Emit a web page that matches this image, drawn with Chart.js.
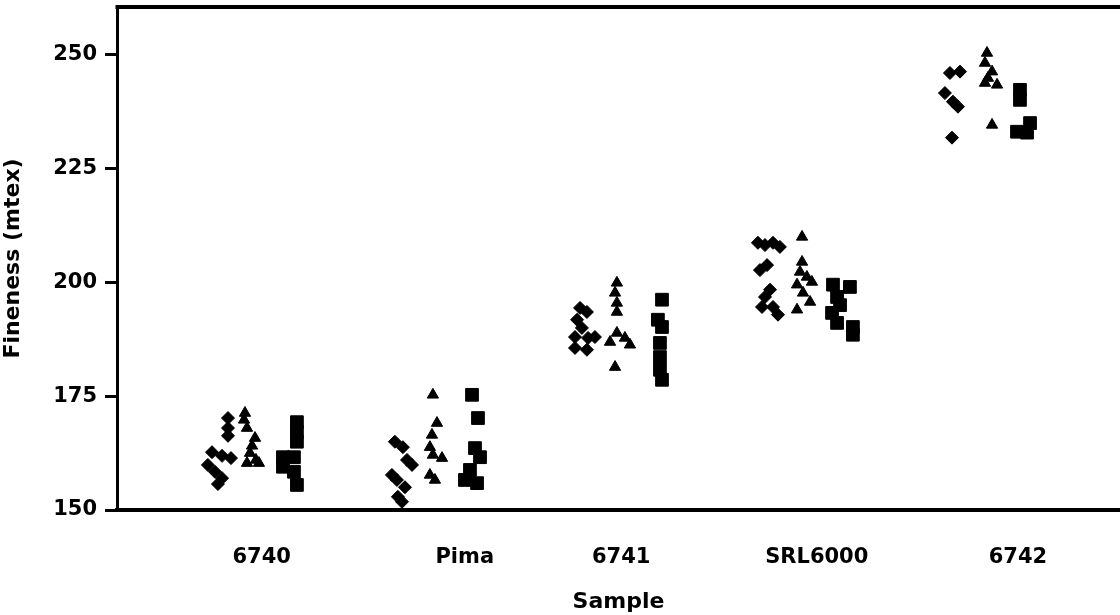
<!DOCTYPE html>
<html>
<head>
<meta charset="utf-8">
<script src="https://cdn.jsdelivr.net/npm/chart.js@4.4.1/dist/chart.umd.min.js"></script>
<style>
  html, body { margin: 0; padding: 0; background: #fff; overflow: hidden; }
  #wrap { width: 1120px; height: 615px; }
</style>
</head>
<body>
<div id="wrap"><canvas id="myChart" width="1120" height="615"></canvas></div>
<script>
// Категории и позиции подписей по оси X
var categories = ['6740', 'Pima', '6741', 'SRL6000', '6742'];
var labelPos = [1.09, 2.18, 3.02, 4.07, 5.15];
var yTicks = [150, 175, 200, 225, 250];

// Точки: [позиция по X (с разбросом), тонина]
var diamonds = [
    [0.909, 170.2], [0.909, 168.0], [0.909, 166.3], [0.823, 162.7], [0.877, 161.9],
    [0.925, 161.4], [0.801, 159.9], [0.839, 158.4], [0.877, 157.0], [0.855, 155.7],
    [1.805, 165.0], [1.848, 163.8], [1.870, 161.0], [1.897, 159.9], [1.789, 157.7],
    [1.816, 156.6], [1.859, 155.0], [1.821, 152.9], [1.843, 151.8],
    [2.799, 194.4], [2.836, 193.5], [2.783, 191.8], [2.809, 190.0], [2.772, 188.0],
    [2.842, 187.8], [2.879, 188.0], [2.772, 185.6], [2.836, 185.2],
    [3.754, 208.7], [3.792, 208.2], [3.835, 208.7], [3.872, 207.8], [3.765, 202.7],
    [3.803, 203.8], [3.819, 198.4], [3.792, 196.8], [3.776, 194.6], [3.835, 194.6],
    [3.862, 192.9],
    [4.785, 246.0], [4.839, 246.3], [4.758, 241.6], [4.801, 239.7], [4.828, 238.6],
    [4.796, 231.8]
];
var triangles = [
    [1.000, 171.3], [0.995, 169.8], [1.011, 168.0], [1.054, 165.8], [1.038, 164.1],
    [1.027, 162.5], [1.059, 161.0], [1.011, 160.3], [1.075, 160.3],
    [2.009, 175.3], [2.031, 169.1], [2.004, 166.5], [1.993, 163.8], [2.009, 162.1],
    [2.058, 161.4], [1.993, 157.7], [2.020, 156.6],
    [2.997, 199.9], [2.987, 197.7], [2.997, 195.5], [2.997, 193.5], [2.997, 188.9],
    [2.960, 186.9], [3.040, 187.8], [3.067, 186.3], [2.987, 181.4],
    [3.991, 210.0], [3.991, 204.5], [3.980, 202.3], [4.017, 201.2], [4.044, 200.1],
    [3.964, 199.5], [3.996, 197.7], [4.034, 195.7], [3.964, 194.0],
    [4.984, 250.4], [4.973, 248.2], [5.011, 246.3], [4.989, 244.9], [4.973, 243.8],
    [5.038, 243.4], [5.011, 234.6]
];
var squares = [
    [1.279, 169.3], [1.279, 167.1], [1.279, 165.0], [1.204, 161.6], [1.263, 161.6],
    [1.204, 159.5], [1.263, 158.4], [1.279, 155.5],
    [2.219, 175.3], [2.251, 170.2], [2.235, 163.6], [2.262, 161.6], [2.208, 158.8],
    [2.181, 156.6], [2.246, 155.9],
    [3.239, 196.2], [3.217, 191.8], [3.239, 190.2], [3.228, 186.7], [3.228, 183.6],
    [3.228, 180.8], [3.239, 178.6],
    [4.157, 199.5], [4.248, 199.0], [4.179, 196.8], [4.195, 195.0], [4.152, 193.3],
    [4.179, 191.1], [4.264, 190.2], [4.264, 188.5],
    [5.161, 242.3], [5.161, 240.1], [5.215, 235.0], [5.145, 233.1], [5.199, 232.9]
];

function toXY(arr) {
    return arr.map(function (p) { return { x: p[0], y: p[1] }; });
}

// Верхняя рамка графика
var topBorder = {
    id: 'topBorder',
    afterDraw: function (chart) {
        var a = chart.chartArea;
        var ctx = chart.ctx;
        ctx.save();
        ctx.strokeStyle = '#000';
        ctx.lineWidth = 4;
        ctx.beginPath();
        ctx.moveTo(a.left - 1.5, a.top);
        ctx.lineTo(a.right + 2, a.top);
        ctx.stroke();
        ctx.restore();
    }
};

var font = 'DejaVu Sans';

function chart() {
    var ctx = document.getElementById('myChart').getContext('2d');

    new Chart(ctx, {
        type: 'scatter',
        data: {
            datasets: [{
                label: 'diamonds',
                data: toXY(diamonds),
                pointStyle: 'rectRot',
                pointRadius: 6.5,
                backgroundColor: '#000',
                borderColor: '#000',
                borderWidth: 1
            }, {
                label: 'triangles',
                data: toXY(triangles),
                pointStyle: 'triangle',
                pointRadius: 6.5,
                backgroundColor: '#000',
                borderColor: '#000',
                borderWidth: 1
            }, {
                label: 'squares',
                data: toXY(squares),
                pointStyle: 'rect',
                pointRadius: 9,
                backgroundColor: '#000',
                borderColor: '#000',
                borderWidth: 1
            }]
        },
        options: {
            responsive: false,
            animation: false,
            layout: { autoPadding: false, padding: { top: 7, right: 0, left: 0, bottom: 0 } },
            plugins: {
                legend: { display: false },
                tooltip: { enabled: false }
            },
            scales: {
                x: {
                    type: 'linear',
                    min: 0.313,
                    max: 5.698,
                    afterBuildTicks: function (axis) {
                        axis.ticks = labelPos.map(function (v) { return { value: v }; });
                    },
                    afterFit: function (axis) {
                        axis.height = 105;
                        axis.paddingLeft = 0;
                        axis.paddingRight = 0;
                    },
                    ticks: {
                        autoSkip: false,
                        maxRotation: 0,
                        padding: 35,
                        color: '#000',
                        font: { family: font, size: 21, weight: 'bold' },
                        callback: function (v, i) { return categories[i]; }
                    },
                    grid: { display: true, drawOnChartArea: false, drawTicks: false },
                    border: { display: true, color: '#000', width: 4 },
                    title: {
                        display: true,
                        text: 'Sample',
                        color: '#000',
                        padding: { top: 8, bottom: 0 },
                        font: { family: font, size: 22, weight: 'bold' }
                    }
                },
                y: {
                    type: 'linear',
                    min: 150,
                    max: 260.5,
                    afterBuildTicks: function (axis) {
                        axis.ticks = yTicks.map(function (v) { return { value: v }; });
                    },
                    afterFit: function (axis) {
                        axis.width = 117;
                        axis.paddingTop = 0;
                        axis.paddingBottom = 0;
                    },
                    ticks: {
                        padding: 8,
                        color: '#000',
                        font: { family: font, size: 21, weight: 'bold' }
                    },
                    grid: {
                        drawOnChartArea: false,
                        drawTicks: true,
                        tickLength: 12,
                        tickWidth: 3,
                        tickColor: '#000'
                    },
                    border: { display: true, color: '#000', width: 3 },
                    title: {
                        display: true,
                        text: 'Fineness (mtex)',
                        color: '#000',
                        padding: { top: 0, bottom: 2 },
                        font: { family: font, size: 22, weight: 'bold' }
                    }
                }
            }
        },
        plugins: [topBorder]
    });
}

chart();
</script>
</body>
</html>
